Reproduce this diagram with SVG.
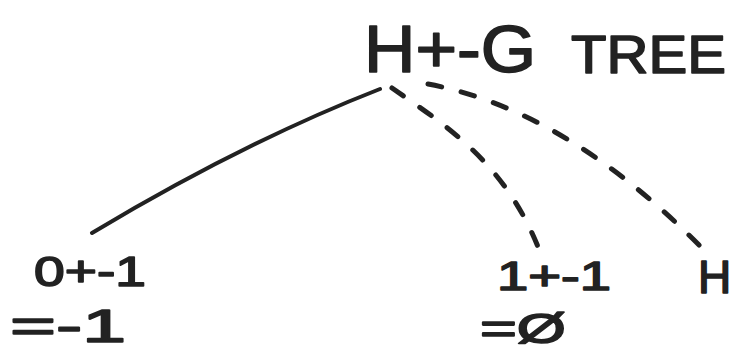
<svg xmlns="http://www.w3.org/2000/svg" width="734" height="355" viewBox="0 0 734 355">
<style>
.t{font-family:"Liberation Sans","DejaVu Sans",sans-serif;fill:#222;stroke:#222;stroke-width:1.6;stroke-linejoin:round}
.c{fill:none;stroke:#222;stroke-width:4;stroke-linecap:round}
.d{stroke-dasharray:14 20;stroke-width:5}
</style>
<rect width="734" height="355" fill="#fff"/>
<g id="connectors">
<path class="c" d="M92,233 Q244,142 380,89" stroke-width="3.5"/>
<path class="c d" d="M392,88 C440,122 505,160 540,252"/>
<path class="c d" d="M428,84 Q565,110 700,246"/>
</g>
<g id="root">
<text class="t" x="364" y="72" font-size="66" textLength="172" lengthAdjust="spacingAndGlyphs">H+-G</text>
<text class="t" x="571" y="73" font-size="54" textLength="155" lengthAdjust="spacingAndGlyphs">TREE</text>
</g>
<g id="left">
<text class="t" x="34" y="286" font-size="42" textLength="112" lengthAdjust="spacingAndGlyphs">0+-1</text>
<text class="t" x="10" y="342" font-size="46" textLength="116" lengthAdjust="spacingAndGlyphs">=-1</text>
</g>
<g id="middle">
<text class="t" x="497" y="290" font-size="40" textLength="114" lengthAdjust="spacingAndGlyphs">1+-1</text>
<text class="t" x="480" y="343" font-size="42" textLength="86" lengthAdjust="spacingAndGlyphs">=Ø</text>
</g>
<g id="right">
<text class="t" x="698" y="293" font-size="46">H</text>
</g>
</svg>
